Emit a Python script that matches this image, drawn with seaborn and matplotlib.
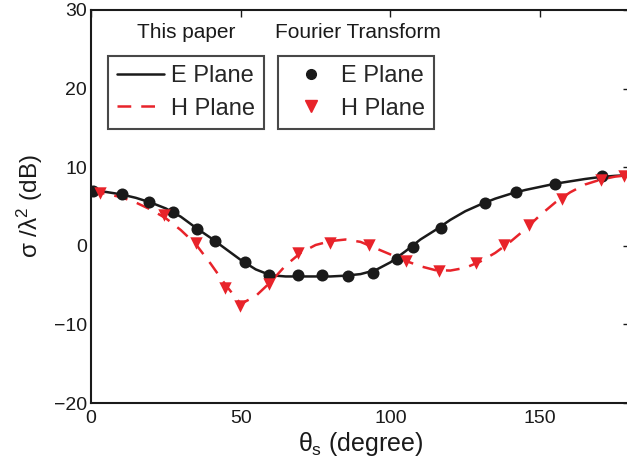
import numpy as np
import pandas as pd
import matplotlib
matplotlib.use("Agg")
import matplotlib.pyplot as plt
from matplotlib.lines import Line2D
import seaborn as sns

# ---- data ----
# "This paper" curves
line_x = [0, 5, 10, 15, 20, 25, 30, 35, 40, 45, 50, 55, 60, 65, 70, 75, 80, 85, 90,
          95, 100, 105, 110, 115, 120, 125, 130, 135, 140, 145, 150, 155, 160, 165, 170, 175, 180]
e_line = [7.0, 6.85, 6.55, 6.1, 5.5, 4.75, 3.7, 2.3, 1.0, -0.4, -1.8, -3.0, -3.75, -3.9, -3.9,
          -3.9, -3.9, -3.8, -3.6, -3.1, -2.1, -0.7, 0.8, 2.0, 3.3, 4.4, 5.25, 6.0, 6.6, 7.1,
          7.5, 7.9, 8.2, 8.5, 8.75, 8.9, 9.0]
h_line = [7.0, 6.6, 6.2, 5.5, 4.6, 3.5, 2.0, 0.2, -2.3, -5.0, -7.4, -6.4, -4.6, -2.5, -0.9,
          0.1, 0.6, 0.8, 0.5, -0.3, -1.1, -1.9, -2.6, -3.1, -3.15, -2.8, -2.0, -0.9, 0.5,
          2.1, 3.9, 5.5, 6.8, 7.8, 8.4, 8.8, 9.0]

# "Fourier Transform" markers
e_ft_x = [0.8, 10.4, 19.4, 27.4, 35.4, 41.5, 51.3, 59.5, 69.1, 77.0, 85.8, 94.1, 102.1,
          107.5, 116.8, 131.7, 142.0, 154.8, 170.6]
e_ft_y = [6.97, 6.55, 5.6, 4.3, 2.14, 0.65, -2.08, -3.76, -3.76, -3.76, -3.78, -3.4, -1.72,
          -0.15, 2.3, 5.5, 6.8, 7.8, 8.9]
h_ft_x = [3.0, 24.3, 35.0, 44.9, 49.9, 59.6, 69.0, 79.9, 92.7, 105.2, 116.3, 128.6, 138.0,
          146.3, 157.4, 170.2, 178.0]
h_ft_y = [6.7, 3.9, 0.35, -5.35, -7.6, -4.8, -0.9, 0.4, 0.05, -1.9, -3.2, -2.15, 0.1,
          2.65, 6.0, 8.4, 8.9]

x_ticks = [0, 50, 100, 150]
y_ticks = [-20, -10, 0, 10, 20, 30]

# ---- style ----
sns.set_style("white")
plt.rcParams["font.family"] = ["Liberation Sans", "DejaVu Sans"]
plt.rcParams["mathtext.fontset"] = "custom"
plt.rcParams["mathtext.rm"] = "Liberation Sans"
plt.rcParams["mathtext.it"] = "Liberation Sans"

RED = "#e8232a"
BLACK = "#1a1a1a"

W, H = 627, 470
fig = plt.figure(figsize=(W / 100, H / 100), dpi=100)
ax = fig.add_axes([91 / W, (H - 403) / H, (630 - 91) / W, (403 - 10) / H])

df_line = pd.DataFrame({"x": line_x, "E": e_line, "H": h_line})
sns.lineplot(data=df_line, x="x", y="E", ax=ax, color=BLACK, lw=1.8, zorder=2)
sns.lineplot(data=df_line, x="x", y="H", ax=ax, color=RED, lw=1.8, zorder=2,
             linestyle=(0, (5.5, 4)))
sns.scatterplot(x=e_ft_x, y=e_ft_y, ax=ax, color=BLACK, marker="o", s=75,
                edgecolor=BLACK, linewidth=0, zorder=3)
sns.scatterplot(x=h_ft_x, y=h_ft_y, ax=ax, color=RED, marker="v", s=80,
                edgecolor=RED, linewidth=0, zorder=3)

ax.set_xlim(0, 180)
ax.set_ylim(-20, 30)
ax.set_xticks(x_ticks)
ax.set_yticks(y_ticks)
ax.set_yticklabels([str(v).replace("-", "\u2212") for v in y_ticks])
ax.tick_params(direction="in", length=5, width=1, top=True, right=True,
               labelsize=14, colors=BLACK)
ax.tick_params(axis="x", pad=5)
ax.tick_params(axis="y", pad=3)
for s in ax.spines.values():
    s.set_linewidth(1.5)
    s.set_color(BLACK)
    s.set_visible(True)

ax.set_xlabel(r"$\theta_{s}$ (degree)", fontsize=18, color=BLACK, labelpad=2)
ax.set_ylabel(r"σ /λ$^{2}$ (dB)", fontsize=17.5, color=BLACK, labelpad=6)

# ---- legends ----
h1 = [Line2D([], [], color=BLACK, lw=1.8),
      Line2D([], [], color=RED, lw=1.8, linestyle=(0, (5.5, 4)))]
h2 = [Line2D([], [], color=BLACK, marker="o", ls="none", markersize=7),
      Line2D([], [], color=RED, marker="v", ls="none", markersize=8)]
common = dict(loc="upper left", bbox_transform=fig.transFigure, frameon=True,
              fancybox=False, edgecolor=BLACK, fontsize=17, borderaxespad=0,
              handlelength=2.0, handletextpad=0.3, labelspacing=0.45,
              borderpad=0.38, numpoints=1)
leg1 = ax.legend(h1, ["E Plane", "H Plane"], bbox_to_anchor=(108 / W, 1 - 56 / H), **common)
leg1.get_frame().set_linewidth(1.5)
ax.add_artist(leg1)
leg2 = ax.legend(h2, ["E Plane", "H Plane"], bbox_to_anchor=(278 / W, 1 - 56 / H), **common)
leg2.get_frame().set_linewidth(1.5)

fig.text(186 / W, 1 - 32 / H, "This paper", fontsize=15, ha="center", va="center", color=BLACK)
fig.text(358 / W, 1 - 33 / H, "Fourier Transform", fontsize=15, ha="center", va="center", color=BLACK)

fig.savefig("out.png", dpi=100)
